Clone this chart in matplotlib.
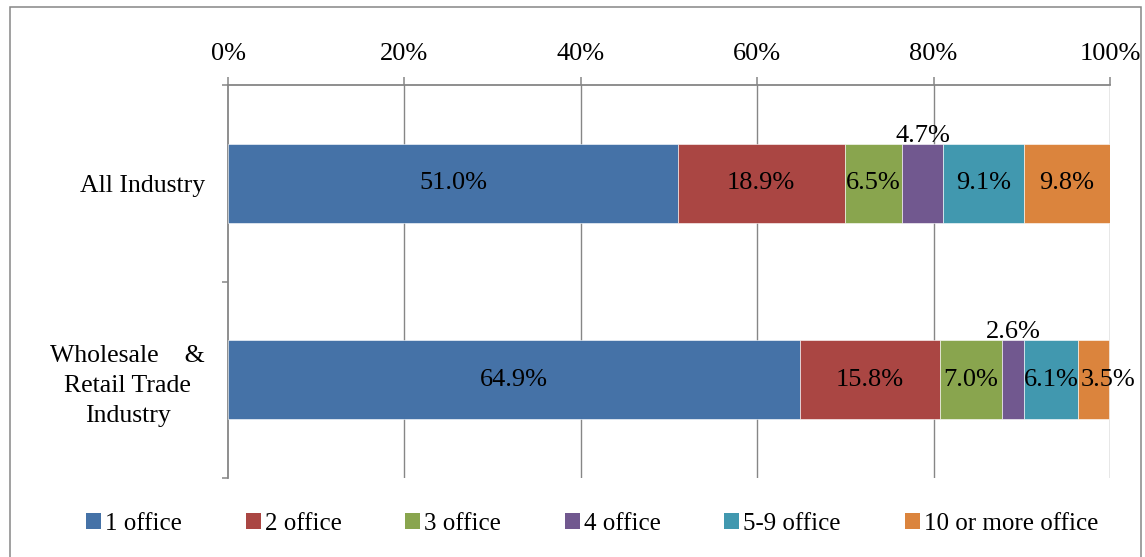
import matplotlib
matplotlib.use("Agg")
import matplotlib.pyplot as plt
import matplotlib.patches as mpatches
import numpy as np

plt.rcParams["font.family"] = ["Liberation Serif", "DejaVu Serif"]

categories = ["All Industry", "Wholesale    &\nRetail Trade\nIndustry"]
series = ["1 office", "2 office", "3 office", "4 office", "5-9 office", "10 or more office"]
all_industry = [51.0, 18.9, 6.5, 4.7, 9.1, 9.8]
wholesale_retail = [64.9, 15.8, 7.0, 2.6, 6.1, 3.5]
colors = ["#4572A7", "#AA4643", "#89A54E", "#71588F", "#4198AF", "#DB843D"]
xticks = [0, 20, 40, 60, 80, 100]

GRAY = "#868686"
FS = 19

values = np.array([all_industry, wholesale_retail])

fig = plt.figure(figsize=(11.45, 5.57), dpi=100)
fig.patch.set_facecolor("white")
ax = fig.add_axes([228 / 1145, 1 - 478 / 557, 882 / 1145, 393 / 557])

# outer chart border
fig.add_artist(mpatches.Rectangle((10 / 1145, -0.02), 1131 / 1145, 1 - 7 / 557 + 0.02,
                                  transform=fig.transFigure, fill=False,
                                  edgecolor=GRAY, linewidth=1.1))

ypos = np.arange(len(categories))
bar_h = 0.4
n = len(series)
for i in range(len(categories)):
    left = 0.0
    for j, v in enumerate(values[i]):
        ax.barh(ypos[i], v, left=left, height=bar_h, color=colors[j],
                edgecolor="white", linewidth=0.4, zorder=3)
        cx = left + v / 2
        lab = f"{v:.1f}%"
        if series[j] == "4 office":
            # small slice: label sits on top of the bar
            ax.text(cx, ypos[i] - bar_h / 2 - 0.01, lab, ha="center", va="baseline",
                    fontsize=FS, color="black", zorder=4)
        elif j == n - 1 and v < 5:
            # thin last slice: label pushed right so it does not hit its neighbour
            ax.text(left + 0.3, ypos[i], lab, ha="left", va="center",
                    fontsize=FS, color="black", zorder=4)
        else:
            ax.text(cx, ypos[i], lab, ha="center", va="center",
                    fontsize=FS, color="black", zorder=4)
        left += v

ax.set_xlim(0, 100)
ax.set_ylim(1.5, -0.5)

ax.xaxis.tick_top()
ax.set_xticks(xticks)
ax.set_xticklabels([f"{t}%" for t in xticks], fontsize=FS)
ax.tick_params(axis="x", which="major", direction="out", length=5.5, width=1.1,
               color=GRAY, pad=9)
for t in xticks[1:]:
    ax.axvline(t, color=GRAY, linewidth=1.0, zorder=1)

ax.set_yticks(ypos)
ax.set_yticklabels(categories, fontsize=18.5, multialignment="center", linespacing=1.45)
ax.set_yticks([-0.5, 0.5, 1.5], minor=True)
ax.tick_params(axis="y", which="major", length=0, pad=16.5)
ax.tick_params(axis="y", which="minor", direction="out", length=4.5, width=1.1, color=GRAY)

for side in ["right", "bottom"]:
    ax.spines[side].set_visible(False)
for side in ["left", "top"]:
    ax.spines[side].set_color(GRAY)
    ax.spines[side].set_linewidth(1.3)

handles = [mpatches.Patch(facecolor=c, edgecolor="none", label=s) for c, s in zip(colors, series)]
fig.legend(handles=handles, loc="center", bbox_to_anchor=(0.517, 1 - 524 / 557),
           ncol=6, frameon=False, fontsize=18, handlelength=0.6, handleheight=0.6,
           handletextpad=0.16, columnspacing=2.55, borderaxespad=0)

fig.savefig("out.png", dpi=100, facecolor="white")
